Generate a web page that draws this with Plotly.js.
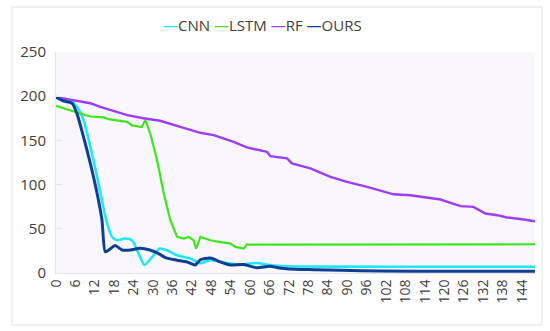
<!DOCTYPE html>
<html>
<head>
<meta charset="utf-8">
<script src="https://cdn.plot.ly/plotly-3.0.1.min.js"></script>
<style>html,body{margin:0;padding:0;background:#fff;}#chart{width:550px;height:331px;}</style>
</head>
<body>
<div id="chart"></div>
<script>
const seriesNames = ["CNN", "LSTM", "RF", "OURS"];
const seriesColors = ["#1fe8f5", "#3ee61e", "#a03cf8", "#0e3f94"];

const cnnX = [0,4.4,6.5,8.5,10.6,12.7,14.2,15.8,17.3,18.9,21.4,23.5,26,27.3,29.7,32,34.3,37.4,41.5,44.6,47.7,53.9,57,62,66,72,90,120,148];
const cnnY = [199,195,188,173,143,109,82,56,41,37,39,37,18,9,18,27.6,25.7,20,16.3,11,14.4,10.6,9.5,11.3,9,7.6,7.2,7,7];

const lstmX = [0,4.9,7.5,10.6,14.7,16.3,21.9,23.5,26.5,27.6,29.1,31.2,33.3,35.3,37.4,39.4,41,42.5,43.3,44.6,47.7,50.8,53.9,55.4,58,59,65,148];
const lstmY = [189,183,180.5,177,176,174,171,167,165,173,158,128,90,60,41,39,40.8,37,27.6,40.8,37,35,33.3,29.5,27.6,32.2,32.2,32.5];

const rfX = [0,5.4,10.6,13.7,17,22,27,32.2,38.4,44.6,48.7,54.9,59,65.2,66.2,71.4,72.9,78.6,84.8,89.9,96.1,100.2,104.3,109.5,114.6,118.8,121.9,125,129,132.7,136.3,139.4,144.5,148];
const rfY = [199,195.6,192,188,184.3,178.6,175,172.2,165.4,158.6,156,148.4,142,137,132.2,129.6,124,118.3,108.7,103,97.4,93.5,89,88,85.4,83.1,79.3,75.6,74.8,67.3,65.4,62.8,60.5,58.6];

const oursX = [0,2,5,6.5,8.5,10.6,12.7,14.2,15.2,16.3,18.3,20.4,23,26,29,31.7,34,37.4,40.5,43,44.6,47.7,50.8,53.9,58,62,66,69,72,80,88,100,120,148];
const oursY = [199,195,192,180,154,124,90,60,24,26,31,26,26,28,26,22,17,14.5,12.5,9,15,17,12.5,9,9.5,6,7.6,5.7,4.6,3.8,3,2.3,2,2];

const xTicks = [0,6,12,18,24,30,36,42,48,54,60,66,72,78,84,90,96,102,108,114,120,126,132,138,144];
const yTicks = [0,50,100,150,200,250];

const xs = [cnnX, lstmX, rfX, oursX];
const ys = [cnnY, lstmY, rfY, oursY];
const shapesLine = ["spline", "linear", "linear", "spline"];
const widths = [2.6, 2.2, 2.4, 3];

const traces = seriesNames.map((n, i) => ({
  type: "scatter", mode: "lines", name: n, x: xs[i], y: ys[i],
  line: {color: seriesColors[i], width: widths[i], shape: shapesLine[i], smoothing: 0.6},
  hoverinfo: "x+y+name"
}));

const legendText = seriesNames.map((n, i) =>
  `<span style="color:${seriesColors[i]}">—</span>${n}`).join(" ");

const layout = {
  width: 550, height: 331,
  margin: {l: 56, r: 15, t: 52, b: 58},
  paper_bgcolor: "#ffffff",
  plot_bgcolor: "#f9f7fd",
  showlegend: false,
  font: {family: "Open Sans, sans-serif", size: 14, color: "#404040"},
  xaxis: {
    range: [0, 148], tickvals: xTicks, ticktext: xTicks.map(String),
    tickangle: -90, showgrid: false, zeroline: false,
    showline: true, linecolor: "#e4e2ea", linewidth: 1,
    ticks: "", tickfont: {size: 14, color: "#404040"}
  },
  yaxis: {
    range: [0, 250], tickvals: yTicks, showgrid: false, zeroline: false,
    showline: true, linecolor: "#e4e2ea", linewidth: 1,
    ticks: "inside", ticklen: 6, tickcolor: "#e4e2ea",
    ticklabelstandoff: 6,
    tickfont: {size: 15, color: "#404040"}
  },
  annotations: [{
    xref: "paper", yref: "paper", x: 0.432, y: 1.122,
    xanchor: "center", yanchor: "middle", showarrow: false,
    text: legendText, font: {size: 15, color: "#404040"}
  }],
  shapes: [{
    type: "rect", xref: "paper", yref: "paper",
    x0: -0.0919, x1: 1.0146, y0: -0.2353, y1: 1.2036,
    line: {color: "#e2e2e2", width: 1}, fillcolor: "rgba(0,0,0,0)", layer: "below"
  }]
};

Plotly.newPlot("chart", traces, layout, {displayModeBar: false, staticPlot: true});
</script>
</body>
</html>
